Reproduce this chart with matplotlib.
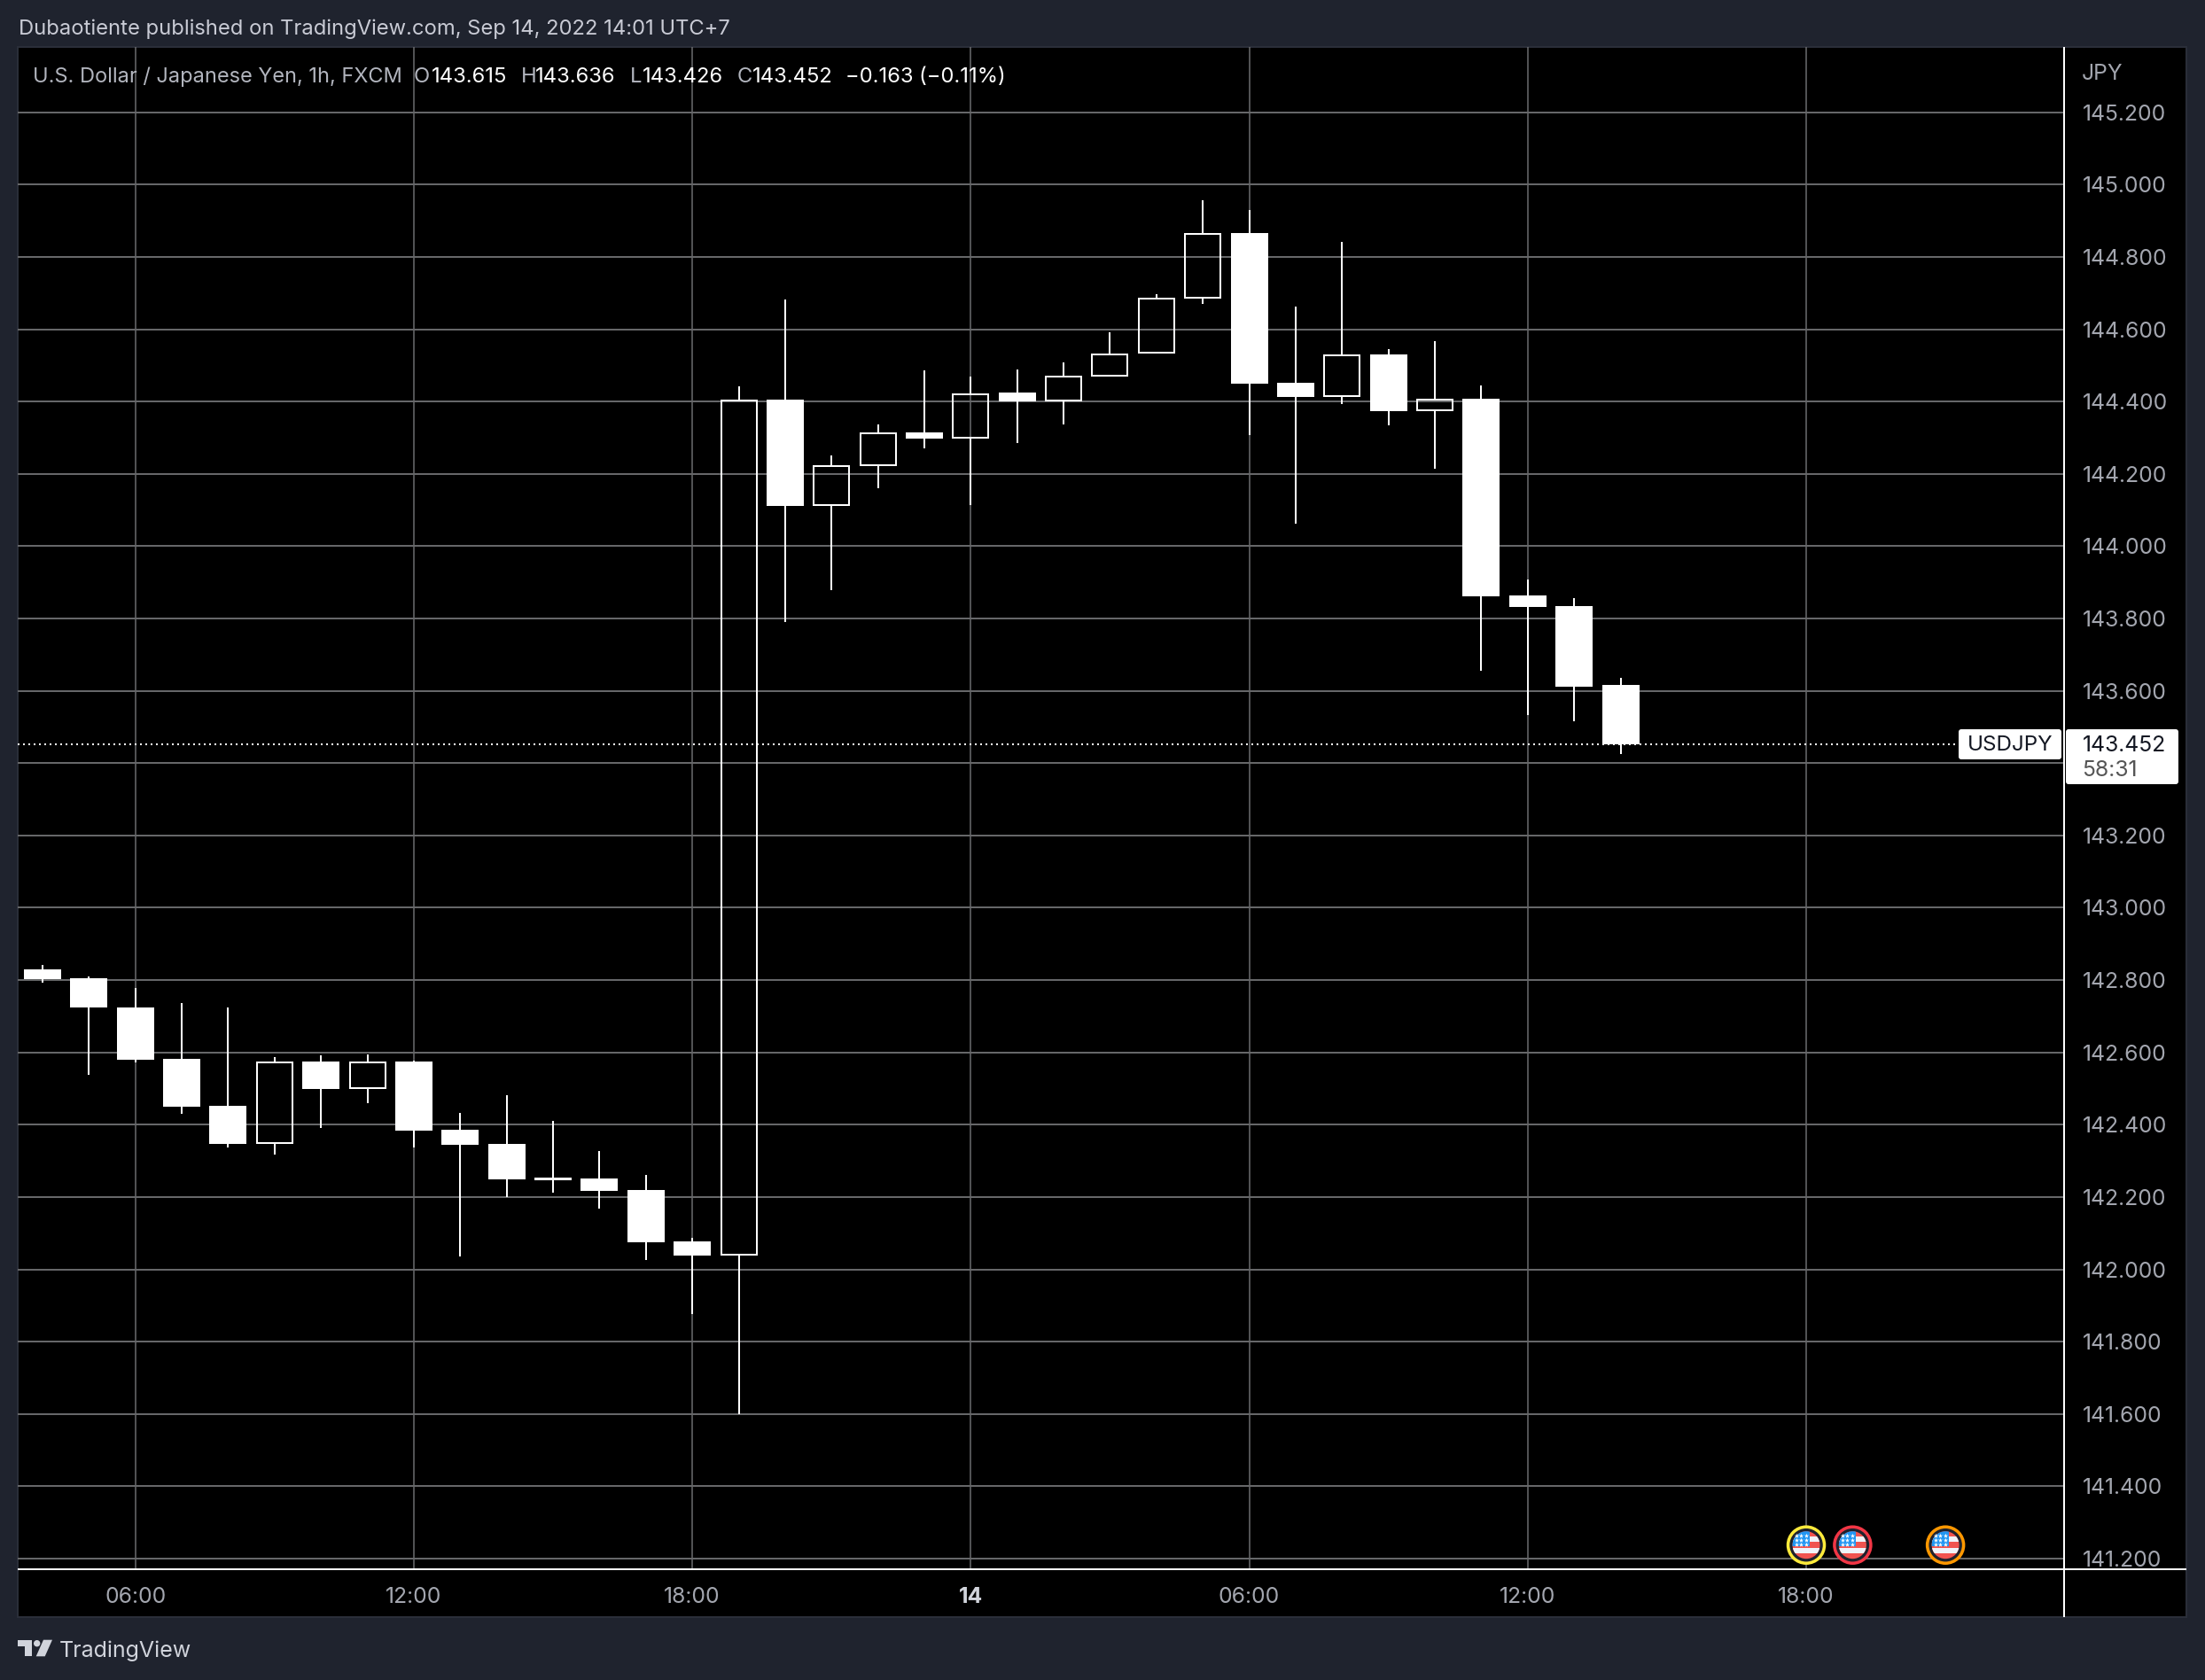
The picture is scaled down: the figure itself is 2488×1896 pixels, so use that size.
import numpy as np
import matplotlib
matplotlib.use('Agg')
import matplotlib.pyplot as plt
from matplotlib.patches import Rectangle, Circle, Polygon, FancyBboxPatch

W, H = 2488, 1896

# hourly candles, hours counted from 00:00 on the 13th
hours = np.arange(4, 39)
opens = [142.830, 142.805, 142.724, 142.582, 142.453, 142.347, 142.575, 142.499, 142.575, 142.386,
         142.347, 142.254, 142.251, 142.220, 142.077, 142.038, 144.405, 144.110, 144.222, 144.315,
         144.298, 144.425, 144.401, 144.470, 144.532, 144.685, 144.866, 144.452, 144.413, 144.530,
         144.374, 144.408, 143.864, 143.834, 143.615]
highs = [142.842, 142.810, 142.777, 142.736, 142.724, 142.587, 142.592, 142.594, 142.577, 142.432,
         142.481, 142.411, 142.327, 142.261, 142.087, 144.442, 144.682, 144.251, 144.337, 144.486,
         144.469, 144.489, 144.508, 144.592, 144.697, 144.957, 144.930, 144.663, 144.841, 144.545,
         144.567, 144.445, 143.908, 143.856, 143.636]
lows = [142.793, 142.538, 142.573, 142.430, 142.337, 142.318, 142.391, 142.460, 142.337, 142.036,
        142.200, 142.212, 142.168, 142.025, 141.877, 141.600, 143.789, 143.879, 144.161, 144.270,
        144.114, 144.285, 144.337, 144.470, 144.532, 144.670, 144.307, 144.063, 144.393, 144.334,
        144.214, 143.655, 143.533, 143.516, 143.426]
closes = [142.803, 142.723, 142.580, 142.450, 142.347, 142.575, 142.499, 142.575, 142.383, 142.344,
          142.249, 142.246, 142.217, 142.075, 142.038, 144.405, 144.110, 144.223, 144.314, 144.297,
          144.423, 144.400, 144.471, 144.532, 144.686, 144.865, 144.449, 144.413, 144.530, 144.373,
          144.407, 143.861, 143.832, 143.611, 143.452]
last_price = 143.452

price_ticks = np.arange(141.2, 145.21, 0.2)
time_ticks = [6, 12, 18, 24, 30, 36, 42]
time_labels = ['06:00', '12:00', '18:00', '14', '06:00', '12:00', '18:00']

event_hours = [42, 43, 45]
event_colors = ['#ffeb3b', '#f23645', '#ff9800']

title = 'Dubaotiente published on TradingView.com, Sep 14, 2022 14:01 UTC+7'
legend_name = 'U.S. Dollar / Japanese Yen, 1h, FXCM'
legend_ohlc = [('O', '143.615', 467, 487), ('H', '143.636', 588, 604),
               ('L', '143.426', 711, 725), ('C', '143.452', 832, 849)]
legend_change = '\u22120.163 (\u22120.11%)'

bg = '#1f232e'
grid_col = '#666769'
text_col = '#a3a6af'
px = 0.72  # one pixel in points at dpi 100

# panel edges, in pixels
left, right, top, bottom = 20, 2329, 53, 1770.7
panel_r, panel_b = 2467, 1825
# scales
px_per_hour = 52.37
px_per_yen = 408.08
x06, y141 = 152.7, 1759


fig = plt.figure(figsize=(W / 100, H / 100), dpi=100, facecolor=bg)

back = fig.add_axes([0, 0, 1, 1], zorder=0)
back.set_xlim(0, W)
back.set_ylim(H, 0)
back.axis('off')
back.add_patch(Rectangle((left, top), panel_r - left, panel_b - top, fc='black', ec='#2a2e39', lw=2 * px))

ax = fig.add_axes([left / W, (H - bottom) / H, (right - left) / W, (bottom - top) / H], zorder=1)
ax.patch.set_alpha(0)
ax.set_xlim(6 + (left - x06) / px_per_hour, 6 + (right - x06) / px_per_hour)
ax.set_ylim(141.2 - (bottom - y141) / px_per_yen, 141.2 + (y141 - top) / px_per_yen)
for s in ax.spines.values():
    s.set_visible(False)

# the 143.400 label sits behind the last price box in the original
price_labels = ['' if abs(p - 143.4) < 0.01 else '%.3f' % p for p in price_ticks]
ax.set_yticks(price_ticks)
ax.set_yticklabels(price_labels, family='Inter', fontsize=17.8, color=text_col)
ax.yaxis.tick_right()
ax.tick_params(axis='y', length=0, pad=21 * px)
ax.set_xticks(time_ticks)
ax.set_xticklabels(time_labels, family='Inter', fontsize=17.8, color=text_col)
ax.tick_params(axis='x', length=0, pad=20 * px)
lab = ax.get_xticklabels()[3]
lab.set_fontweight('bold')
lab.set_color('#d1d4dc')
ax.grid(True, axis='y', color=grid_col, lw=2 * px)
ax.grid(True, axis='x', color=grid_col, lw=1.6 * px)
ax.set_axisbelow(True)

# candles: white filled falls, hollow rises
o, h, l, c = map(np.array, (opens, highs, lows, closes))
up = c > o
body_top = np.maximum(o, c)
body_bot = np.minimum(o, c)
ax.vlines(hours, body_top, h, color='white', lw=2 * px, zorder=3)
ax.vlines(hours, l, body_bot, color='white', lw=2 * px, zorder=3)
ax.bar(hours[~up], (body_top - body_bot)[~up], bottom=body_bot[~up], width=42 / px_per_hour,
       color='white', lw=0, zorder=4)
# stroke is centred on the edge, pull it in by a pixel
inset = 1 / px_per_yen
ax.bar(hours[up], (body_top - body_bot)[up] - 2 * inset, bottom=body_bot[up] + inset, width=40 / px_per_hour,
       facecolor='none', edgecolor='white', lw=2 * px, zorder=4)
ax.axhline(last_price, color='white', lw=2 * px, ls=(0, (1, 2)), zorder=2)

# everything around the chart, in pixels
over = fig.add_axes([0, 0, 1, 1], zorder=2)
over.set_xlim(0, W)
over.set_ylim(H, 0)
over.axis('off')
over.patch.set_alpha(0)

over.plot([right, right], [top, panel_b], color='white', lw=2 * px, solid_capstyle='butt')
over.plot([left, panel_r], [bottom, bottom], color='white', lw=2 * px, solid_capstyle='butt')

fam = 'Inter'
fs = 17.1
over.text(21, 33, title, color='#c9cbd5', family=fam, fontsize=fs, va='center')
over.text(37, 87, legend_name, color='#b2b5be', family=fam, fontsize=16.95, va='center')
for letter, value, x1, x2 in legend_ohlc:
    over.text(x1, 87, letter, color='#b2b5be', family=fam, fontsize=fs, va='center')
    over.text(x2, 87, value, color='white', family=fam, fontsize=fs, va='center')
over.text(954, 87, legend_change, color='white', family=fam, fontsize=fs, va='center')
over.text(2349, 83, 'JPY', color=text_col, family='Inter', fontsize=17.8, va='center')

# last price labels
last_y = y141 - (last_price - 141.2) * px_per_yen
round3 = 'round,pad=0,rounding_size=3'
over.add_patch(FancyBboxPatch((2210, 823), 116, 34, boxstyle=round3, fc='white', lw=0))
over.add_patch(FancyBboxPatch((2331, 823), 127, 62, boxstyle=round3, fc='white', lw=0))
over.text(2268, last_y + 1, 'USDJPY', color='#131722', family='Inter', fontsize=17.4, ha='center', va='center')
over.text(2350, last_y + 1, '%.3f' % last_price, color='#131722', family='Inter', fontsize=17.8, va='center')
over.text(2349, 870, '58:31', color='#555555', family='Inter', fontsize=17.8, va='center')

# event flags
flag_y = 1743.7
for ev, col in zip(event_hours, event_colors):
    fx = ax.transData.transform((ev, 0))[0]
    over.add_patch(Circle((fx, flag_y), 20.5, fc='#1e222d', ec=col, lw=3.5 * px, zorder=5))
    disc = Circle((fx, flag_y), 15.5, fc='#f05350', lw=0, zorder=6)
    over.add_patch(disc)
    for sy, sh in [(-9.5, 6), (3, 6)]:
        st = Rectangle((fx - 16, flag_y + sy), 32, sh, fc='#f0f3fa', lw=0, zorder=7)
        over.add_patch(st)
        st.set_clip_path(disc)
    st = Rectangle((fx - 16, flag_y - 16), 19.5, 17.5, fc='#2196f3', lw=0, zorder=8)
    over.add_patch(st)
    st.set_clip_path(disc)
    sx, sy = np.meshgrid([fx - 11.5, fx - 6, fx - 0.5], [flag_y - 11, flag_y - 6, flag_y - 1])
    over.scatter(sx.ravel(), sy.ravel(), marker='*', s=16, c='white', lw=0, zorder=9)

# TradingView logo
logo = '#d1d4dc'
over.add_patch(Polygon([(20, 1850.7), (35.7, 1850.7), (35.7, 1869.3), (27.7, 1869.3), (27.7, 1857.7), (20, 1857.7)],
                       fc=logo, lw=0))
over.add_patch(Circle((41.7, 1854.7), 3.7, fc=logo, lw=0))
over.add_patch(Polygon([(59, 1850.7), (50.7, 1869.3), (40.7, 1869.3), (49, 1850.7)], fc=logo, lw=0))
over.text(67, 1863, 'TradingView', color=logo, family='Inter', fontsize=18, va='center')

fig.savefig('out.png', dpi=100, facecolor=bg)
